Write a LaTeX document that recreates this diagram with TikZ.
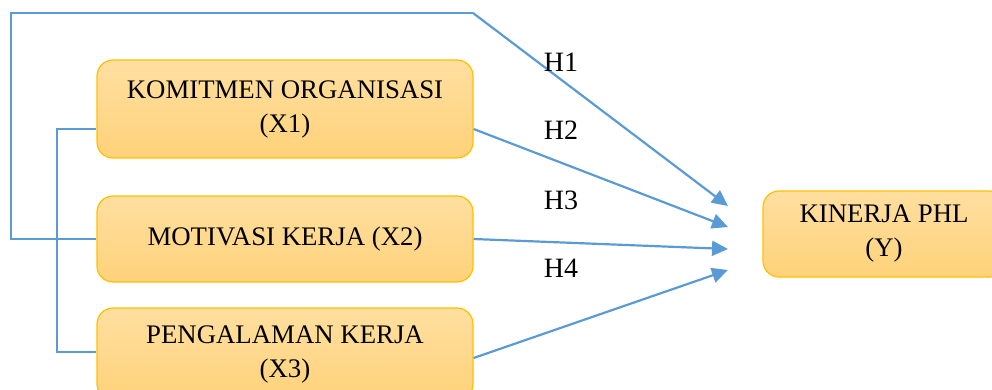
\documentclass[tikz,border=0pt]{standalone}
\usepackage{fontspec}
\setmainfont{Liberation Serif}
\usetikzlibrary{arrows.meta,calc}
\definecolor{lineblue}{HTML}{5B9BD5}
\definecolor{boxtop}{HTML}{FFDFA0}
\definecolor{boxbot}{HTML}{FFD27A}
\definecolor{boxedge}{HTML}{FFC000}
\begin{document}
\begin{tikzpicture}[x=1pt,y=-1pt,
  varbox/.style={draw=boxedge,line width=1.2pt,rounded corners=16pt,
    top color=boxtop,bottom color=boxbot,align=center,
    font=\fontsize{26.8}{34}\selectfont,inner sep=0pt},
  conn/.style={draw=lineblue,line width=1.3pt},
  arr/.style={draw=lineblue,line width=2.2pt,
    -{Triangle[length=16pt,width=15pt]}},
  hlabel/.style={font=\fontsize{28}{34}\selectfont,inner sep=0pt}]
\useasboundingbox (0,0) rectangle (992,390);
\node[varbox,minimum width=376pt,minimum height=98pt] (x1) at (285,109) {KOMITMEN ORGANISASI\\(X1)};
\node[varbox,minimum width=376pt,minimum height=86pt] (x2) at (285,239) {MOTIVASI KERJA (X2)};
\node[varbox,minimum width=376pt,minimum height=92pt] (x3) at (285,354) {PENGALAMAN KERJA\\(X3)};
\node[varbox,minimum width=242pt,minimum height=86pt] (y) at (884,234) {KINERJA PHL\\(Y)};
% free ends of the arrows
\coordinate (t1) at (728,206);
\coordinate (t2) at (728,227);
\coordinate (t3) at (728,249);
\coordinate (t4) at (728,270);
% connection points
\coordinate (a1) at ($(x1.west)+(0,20)$);
\coordinate (a3) at ($(x3.west)+(0,-2)$);
\coordinate (b1) at ($(x1.east)+(0,20)$);
\coordinate (b3) at ($(x3.east)+(0,4)$);
\coordinate (c1) at (11,13);
\coordinate (c2) at (473,13);
\coordinate (c3) at (57,129);
% connectors
\draw[conn] (x2.west) -| (c1) -- (c2);
\draw[arr] (c2) -- (t1);
\draw[conn] (a1) -- (c3) |- (a3);
\draw[arr] (b1) -- (t2);
\draw[arr] (x2.east) -- (t3);
\draw[arr] (b3) -- (t4);
% labels
\node[hlabel] (h1) at (561,62) {H1};
\node[hlabel] (h2) at (561,130) {H2};
\node[hlabel] (h3) at (561,200) {H3};
\node[hlabel] (h4) at (561,268) {H4};
\end{tikzpicture}
\end{document}
